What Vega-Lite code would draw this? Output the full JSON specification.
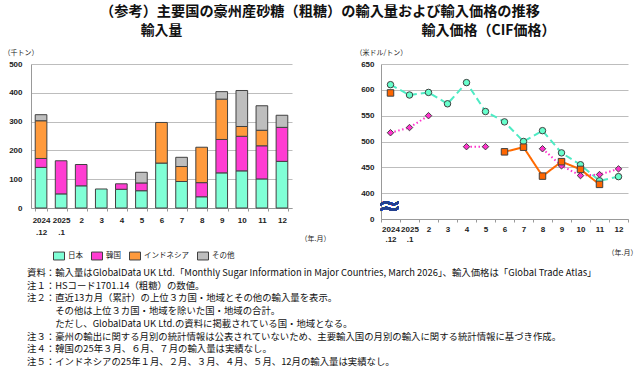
{
  "$schema": "https://vega.github.io/schema/vega-lite/v6.json",
  "padding": {"left": 3, "top": 4, "right": 0, "bottom": 0},
  "background": "white",
  "config": {
    "view": {"stroke": null},
    "font": "Noto Sans CJK JP",
    "axis": {"labelFont": "Liberation Sans", "labelFontSize": 8, "labelFontWeight": "bold", "labelColor": "#222", "titleFont": "Noto Sans CJK JP", "titleFontWeight": "normal", "titleFontSize": 7, "titleColor": "#222", "gridColor": "#BDBDBD", "domainColor": "#999", "tickColor": "#999"},
    "legend": {"labelFont": "Noto Sans CJK JP", "labelFontSize": 7.5, "labelColor": "#222"}
  },
  "title": {
    "text": [
      "資料：輸入量はGlobalData UK Ltd.「Monthly Sugar Information in Major Countries, March 2026」、輸入価格は「Global Trade Atlas」",
      "注１：HSコード1701.14（粗糖）の数値。",
      "注２：直近13カ月（累計）の上位３カ国・地域とその他の輸入量を表示。",
      "\u200b　　　その他は上位３カ国・地域を除いた国・地域の合計。",
      "\u200b　　　ただし、GlobalData UK Ltd.の資料に掲載されている国・地域となる。",
      "注３：豪州の輸出に関する月別の統計情報は公表されていないため、主要輸入国の月別の輸入に関する統計情報に基づき作成。",
      "注４：韓国の25年３月、６月、７月の輸入量は実績なし。",
      "注５：インドネシアの25年１月、２月、３月、４月、５月、12月の輸入量は実績なし。"
    ],
    "orient": "bottom", "anchor": "start", "fontSize": 9.4, "fontWeight": "normal", "lineHeight": 12.7, "offset": 7, "dx": 24, "color": "#111"
  },
  "vconcat": [
    {
      "title": {"text": "（参考）主要国の豪州産砂糖（粗糖）の輸入量および輸入価格の推移", "anchor": "middle", "fontSize": 14.2, "fontWeight": "bold", "offset": 5, "color": "#111"},
      "hconcat": [
        {
          "width": 261,
          "height": 144,
          "title": {"text": "輸入量", "fontSize": 13.8, "fontWeight": "bold", "anchor": "middle", "offset": 10, "color": "#111"},
          "data": {"values": [
            {"m": "2024.12", "c": "日本", "k": 1, "v": 141},
            {"m": "2024.12", "c": "韓国", "k": 2, "v": 31},
            {"m": "2024.12", "c": "インドネシア", "k": 3, "v": 131},
            {"m": "2024.12", "c": "その他", "k": 4, "v": 21},
            {"m": "2025.1", "c": "日本", "k": 1, "v": 49},
            {"m": "2025.1", "c": "韓国", "k": 2, "v": 115},
            {"m": "2", "c": "日本", "k": 1, "v": 77},
            {"m": "2", "c": "韓国", "k": 2, "v": 74},
            {"m": "3", "c": "日本", "k": 1, "v": 66},
            {"m": "4", "c": "日本", "k": 1, "v": 65},
            {"m": "4", "c": "韓国", "k": 2, "v": 19},
            {"m": "5", "c": "日本", "k": 1, "v": 60},
            {"m": "5", "c": "韓国", "k": 2, "v": 27},
            {"m": "5", "c": "その他", "k": 4, "v": 37},
            {"m": "6", "c": "日本", "k": 1, "v": 156},
            {"m": "6", "c": "インドネシア", "k": 3, "v": 141},
            {"m": "7", "c": "日本", "k": 1, "v": 92},
            {"m": "7", "c": "インドネシア", "k": 3, "v": 52},
            {"m": "7", "c": "その他", "k": 4, "v": 32},
            {"m": "8", "c": "日本", "k": 1, "v": 39},
            {"m": "8", "c": "韓国", "k": 2, "v": 49},
            {"m": "8", "c": "インドネシア", "k": 3, "v": 123},
            {"m": "9", "c": "日本", "k": 1, "v": 122},
            {"m": "9", "c": "韓国", "k": 2, "v": 116},
            {"m": "9", "c": "インドネシア", "k": 3, "v": 140},
            {"m": "9", "c": "その他", "k": 4, "v": 26},
            {"m": "10", "c": "日本", "k": 1, "v": 129},
            {"m": "10", "c": "韓国", "k": 2, "v": 120},
            {"m": "10", "c": "インドネシア", "k": 3, "v": 34},
            {"m": "10", "c": "その他", "k": 4, "v": 125},
            {"m": "11", "c": "日本", "k": 1, "v": 101},
            {"m": "11", "c": "韓国", "k": 2, "v": 115},
            {"m": "11", "c": "インドネシア", "k": 3, "v": 54},
            {"m": "11", "c": "その他", "k": 4, "v": 85},
            {"m": "12", "c": "日本", "k": 1, "v": 162},
            {"m": "12", "c": "韓国", "k": 2, "v": 118},
            {"m": "12", "c": "その他", "k": 4, "v": 42}
          ]},
          "mark": {"type": "bar", "stroke": "#404040", "strokeWidth": 1},
          "encoding": {
            "x": {"field": "m", "type": "nominal",
              "scale": {"domain": ["2024.12", "2025.1", "2", "3", "4", "5", "6", "7", "8", "9", "10", "11", "12"], "paddingInner": 0.42, "paddingOuter": 0.21},
              "axis": {"title": "（年.月）", "titleX": 269, "titleY": 30, "titleAlign": "left", "titleBaseline": "middle", "labelAngle": 0, "labelExpr": "indexof(datum.label, '.') > 0 ? [slice(datum.label, 0, 4), slice(datum.label, 4)] : datum.label", "labelLineHeight": 12, "labelBaseline": "top", "labelPadding": 5, "tickBand": "extent", "tickSize": 3, "grid": false}},
            "y": {"field": "v", "type": "quantitative", "stack": "zero",
              "scale": {"domain": [0, 500]},
              "axis": {"values": [0, 100, 200, 300, 400, 500], "title": "（千トン）", "titleAngle": 0, "titleAlign": "left", "titleBaseline": "middle", "titleX": -28, "titleY": -12, "ticks": false, "labelPadding": 9}},
            "color": {"field": "c", "type": "nominal",
              "scale": {"domain": ["日本", "韓国", "インドネシア", "その他"], "range": ["#80FFD6", "#FF3CD2", "#FF9A3C", "#BEBEBE"]},
              "legend": {"title": null, "orient": "none", "direction": "horizontal", "legendX": 22, "legendY": 186, "symbolType": "M-1,-0.72H1V0.72H-1Z", "symbolSize": 121, "symbolStrokeColor": "#404040", "symbolStrokeWidth": 1, "columnPadding": 6, "labelOffset": 3}},
            "order": {"field": "k", "type": "quantitative"}
          }
        },
        {
          "width": 247,
          "height": 155,
          "title": {"text": "輸入価格（CIF価格）", "fontSize": 14, "fontWeight": "bold", "anchor": "middle", "offset": 10, "dx": -16, "color": "#111"},
          "data": {"values": [
            {"m": "2024.12", "c": "日本", "p": 610},
            {"m": "2025.1", "c": "日本", "p": 590},
            {"m": "2", "c": "日本", "p": 595},
            {"m": "3", "c": "日本", "p": 573},
            {"m": "4", "c": "日本", "p": 614},
            {"m": "5", "c": "日本", "p": 558},
            {"m": "6", "c": "日本", "p": 538},
            {"m": "7", "c": "日本", "p": 500},
            {"m": "8", "c": "日本", "p": 521},
            {"m": "9", "c": "日本", "p": 478},
            {"m": "10", "c": "日本", "p": 455},
            {"m": "11", "c": "日本", "p": 424},
            {"m": "12", "c": "日本", "p": 432},
            {"m": "2024.12", "c": "韓国", "p": 517},
            {"m": "2025.1", "c": "韓国", "p": 527},
            {"m": "2", "c": "韓国", "p": 550},
            {"m": "3", "c": "韓国", "p": null},
            {"m": "4", "c": "韓国", "p": 490},
            {"m": "5", "c": "韓国", "p": 490},
            {"m": "6", "c": "韓国", "p": null},
            {"m": "7", "c": "韓国", "p": null},
            {"m": "8", "c": "韓国", "p": 486},
            {"m": "9", "c": "韓国", "p": 453},
            {"m": "10", "c": "韓国", "p": 434},
            {"m": "11", "c": "韓国", "p": 436},
            {"m": "12", "c": "韓国", "p": 447},
            {"m": "2024.12", "c": "インドネシア", "p": 594},
            {"m": "2025.1", "c": "インドネシア", "p": null},
            {"m": "2", "c": "インドネシア", "p": null},
            {"m": "3", "c": "インドネシア", "p": null},
            {"m": "4", "c": "インドネシア", "p": null},
            {"m": "5", "c": "インドネシア", "p": null},
            {"m": "6", "c": "インドネシア", "p": 480},
            {"m": "7", "c": "インドネシア", "p": 489},
            {"m": "8", "c": "インドネシア", "p": 433},
            {"m": "9", "c": "インドネシア", "p": 461},
            {"m": "10", "c": "インドネシア", "p": 446},
            {"m": "11", "c": "インドネシア", "p": 417},
            {"m": "12", "c": "インドネシア", "p": null}
          ]},
          "encoding": {
            "x": {"field": "m", "type": "nominal",
              "scale": {"domain": ["2024.12", "2025.1", "2", "3", "4", "5", "6", "7", "8", "9", "10", "11", "12"], "paddingInner": 0, "paddingOuter": 0},
              "axis": {"title": "（年.月）", "titleX": 226, "titleY": 33, "titleAlign": "left", "titleBaseline": "middle", "labelAngle": 0, "labelExpr": "indexof(datum.label, '.') > 0 ? [slice(datum.label, 0, 4), slice(datum.label, 4)] : datum.label", "labelLineHeight": 10, "labelBaseline": "top", "labelPadding": 3, "tickBand": "extent", "tickSize": 3, "grid": false}},
            "y": {"field": "p", "type": "quantitative",
              "scale": {"domain": [350, 650]},
              "axis": {"values": [350, 400, 450, 500, 550, 600, 650], "labelExpr": "datum.value == 350 ? '0' : datum.label", "title": "（米ドル/トン）", "titleAngle": 0, "titleAlign": "left", "titleBaseline": "middle", "titleX": -26, "titleY": -12, "ticks": false, "labelPadding": 7}}
          },
          "layer": [
            {
              "mark": {"type": "line", "strokeWidth": 2, "invalid": "break-paths-filter-domains"},
              "encoding": {
                "color": {"field": "c", "type": "nominal", "legend": null,
                  "scale": {"domain": ["日本", "韓国", "インドネシア"], "range": ["#4EEBC4", "#FF33CC", "#FF6A00"]}},
                "strokeDash": {"field": "c", "type": "nominal", "legend": null,
                  "scale": {"domain": ["日本", "韓国", "インドネシア"], "range": [[7, 4], [1.5, 2.5], [1, 0]]}}
              }
            },
            {
              "mark": {"type": "point", "filled": true, "stroke": "#404040", "strokeWidth": 1, "opacity": 1, "size": 42},
              "encoding": {
                "fill": {"field": "c", "type": "nominal",
                  "scale": {"domain": ["日本", "韓国", "インドネシア"], "range": ["#66FFCC", "#FF33CC", "#FF6600"]},
                  "legend": {"title": null, "orient": "none", "direction": "horizontal", "legendX": 33, "legendY": 189, "symbolStrokeColor": "#404040", "symbolStrokeWidth": 1, "symbolSize": 42, "columnPadding": 10, "labelOffset": 8}},
                "shape": {"field": "c", "type": "nominal",
                  "scale": {"domain": ["日本", "韓国", "インドネシア"], "range": ["circle", "diamond", "square"]},
                  "legend": {"title": null, "orient": "none", "direction": "horizontal", "legendX": 33, "legendY": 189, "symbolStrokeColor": "#404040", "symbolStrokeWidth": 1, "symbolSize": 42, "columnPadding": 10, "labelOffset": 8}}
              }
            },
            {
              "mark": {"type": "text", "text": "≈", "font": "DejaVu Sans", "fontSize": 28, "color": "#23408E", "dx": -1},
              "encoding": {
                "x": {"datum": "2024.12"},
                "y": {"datum": 373}
              }
            }
          ]
        }
      ],
      "spacing": 89,
      "bounds": "flush",
      "resolve": {"scale": {"color": "independent", "fill": "independent", "shape": "independent"}, "legend": {"color": "independent"}}
    }
  ]
}
